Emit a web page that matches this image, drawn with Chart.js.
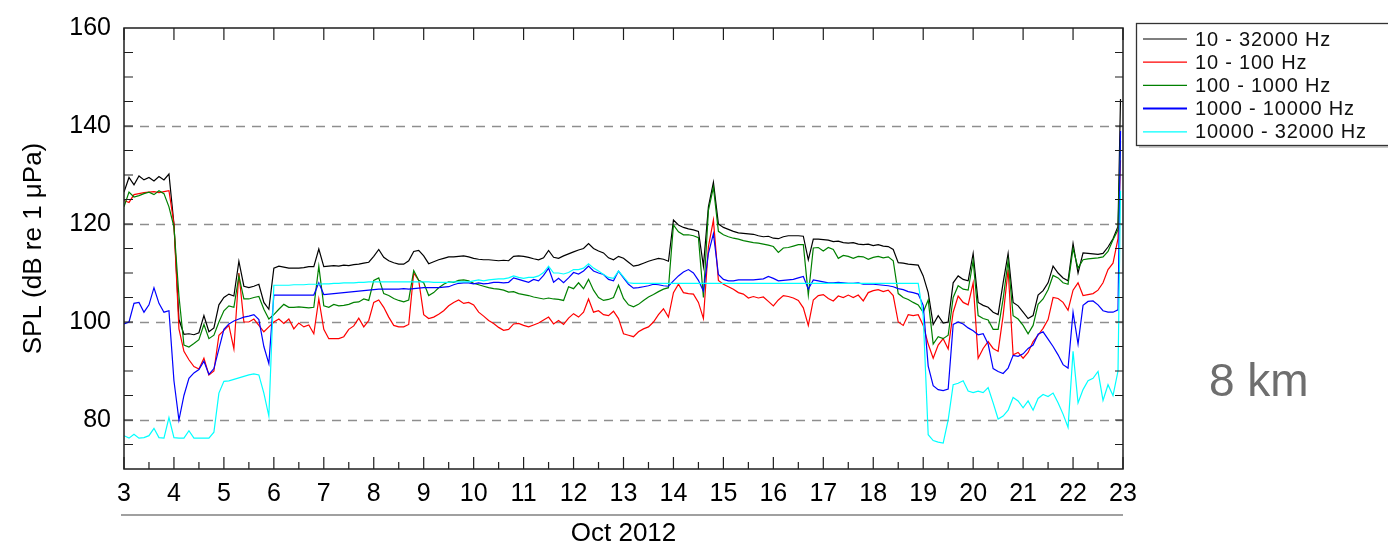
<!DOCTYPE html>
<html><head><meta charset="utf-8">
<script src="https://cdn.jsdelivr.net/npm/chart.js@4.4.1/dist/chart.umd.min.js"></script>
<style>html,body{margin:0;padding:0;background:#fff;}#wrap{width:1388px;height:547px;}</style>
</head><body><div id="wrap"><canvas id="c" width="1388" height="547"></canvas></div>
<script>
// ---- time axis (days of October 2012) ----
const days = [
3,3.1,3.2,3.3,3.4,3.5,3.6,3.7,3.8,3.9,
4,4.1,4.2,4.3,4.4,4.5,4.6,4.7,4.8,4.9,
5,5.1,5.2,5.3,5.4,5.5,5.6,5.7,5.8,5.9,
6,6.1,6.2,6.3,6.4,6.5,6.6,6.7,6.8,6.9,
7,7.1,7.2,7.3,7.4,7.5,7.6,7.7,7.8,7.9,
8,8.1,8.2,8.3,8.4,8.5,8.6,8.7,8.8,8.9,
9,9.1,9.2,9.3,9.4,9.5,9.6,9.7,9.8,9.9,
10,10.1,10.2,10.3,10.4,10.5,10.6,10.7,10.8,10.9,
11,11.1,11.2,11.3,11.4,11.5,11.6,11.7,11.8,11.9,
12,12.1,12.2,12.3,12.4,12.5,12.6,12.7,12.8,12.9,
13,13.1,13.2,13.3,13.4,13.5,13.6,13.7,13.8,13.9,
14,14.1,14.2,14.3,14.4,14.5,14.6,14.7,14.8,14.9,
15,15.1,15.2,15.3,15.4,15.5,15.6,15.7,15.8,15.9,
16,16.1,16.2,16.3,16.4,16.5,16.6,16.7,16.8,16.9,
17,17.1,17.2,17.3,17.4,17.5,17.6,17.7,17.8,17.9,
18,18.1,18.2,18.3,18.4,18.5,18.6,18.7,18.8,18.9,
19,19.1,19.2,19.3,19.4,19.5,19.6,19.7,19.8,19.9,
20,20.1,20.2,20.3,20.4,20.5,20.6,20.7,20.8,20.9,
21,21.1,21.2,21.3,21.4,21.5,21.6,21.7,21.8,21.9,
22,22.1,22.2,22.3,22.4,22.5,22.6,22.7,22.8,22.9,
22.95];

const seriesLabels = ['10 - 32000 Hz','10 - 100 Hz','100 - 1000 Hz','1000 - 10000 Hz','10000 - 32000 Hz'];
const seriesColors = ['#000000','#ff0000','#008000','#0000ff','#00ffff'];

// ---- SPL values (dB re 1 uPa) ----
const band10to32000 = [
126.5,129.5,128.0,129.8,129.0,129.5,128.8,129.7,129.0,130.2,
120.0,100.5,97.5,97.6,97.4,97.8,101.3,98.0,98.8,103.5,
105.0,105.7,105.3,112.4,107.3,107.0,107.3,107.7,104.0,102.6,
111.0,111.4,111.2,111.0,111.0,111.0,111.1,111.3,111.3,114.9,
111.3,111.4,111.5,111.4,111.6,111.5,111.7,111.8,112.0,112.2,
113.4,114.8,113.2,112.5,112.1,111.8,111.8,112.5,114.4,114.6,
113.5,111.9,112.3,112.7,113.0,113.3,113.3,113.4,113.5,113.3,
113.0,112.8,112.7,112.7,112.6,112.5,112.6,112.5,113.4,113.5,
113.4,113.2,112.9,112.7,113.1,114.6,113.2,113.0,113.5,113.9,
114.3,114.7,115.0,116.0,115.0,114.5,114.1,113.1,112.7,113.4,
113.0,112.2,111.4,111.6,112.0,112.4,112.7,113.0,112.8,112.4,
120.8,119.8,119.3,119.0,118.8,118.5,111.4,123.5,128.5,120.0,
119.3,118.9,118.5,118.2,118.1,118.0,117.9,117.6,117.4,117.5,
117.1,117.0,117.4,117.6,117.6,117.6,117.5,112.7,116.9,116.9,
116.8,116.7,116.4,116.5,116.2,116.1,116.2,115.9,115.8,115.9,
115.6,115.8,115.5,115.4,114.8,112.1,112.0,111.8,111.7,111.6,
109.4,106.0,99.5,101.3,99.8,100.0,108.0,109.4,108.7,108.4,
114.0,104.0,103.4,103.0,102.0,101.5,108.0,114.0,104.0,103.3,
102.0,100.7,101.3,105.5,106.4,108.0,111.4,110.0,109.0,108.4,
116.0,110.0,114.1,114.0,113.9,113.8,114.0,115.3,117.0,119.5,
145.5];

const band10to100 = [
124.8,124.4,126.0,126.2,126.4,126.5,126.6,126.4,126.6,126.8,
120.0,98.6,94.0,92.3,90.9,90.4,92.6,89.2,90.0,97.3,
98.3,99.3,94.5,110.0,100.0,100.0,100.6,99.3,98.0,99.0,
100.0,100.6,99.7,100.6,98.6,99.8,99.0,99.4,97.6,104.7,
98.5,96.6,96.6,96.6,97.0,98.5,99.2,100.8,99.0,100.3,
104.0,104.5,103.0,101.0,99.3,99.0,99.0,99.5,110.0,108.5,
101.5,100.7,101.0,101.6,102.3,103.3,104.0,104.5,103.8,104.0,
103.5,102.0,101.2,100.3,99.7,98.9,98.3,98.5,99.6,99.7,
99.3,99.0,99.4,99.8,100.4,101.0,99.6,100.3,99.5,100.8,
101.7,101.0,102.0,104.7,102.0,102.3,101.5,101.3,102.2,100.7,
97.6,97.3,97.0,98.0,98.6,99.0,100.0,101.5,102.7,101.0,
106.0,107.7,106.0,105.8,105.7,104.0,100.7,115.4,120.8,108.5,
107.7,107.2,106.7,106.0,105.7,104.9,105.2,104.9,105.1,104.2,
103.3,104.5,105.4,105.2,104.9,104.4,102.9,99.3,104.5,105.4,
105.6,104.8,104.3,105.3,105.0,105.5,105.0,105.5,104.3,106.0,
106.4,106.6,106.2,106.5,105.4,100.0,99.3,101.5,101.3,101.5,
99.3,95.5,92.6,95.3,96.6,94.5,102.0,105.3,104.0,103.5,
108.0,92.6,94.6,96.0,94.6,94.0,101.3,110.7,93.3,93.8,
92.6,93.8,96.0,97.3,98.7,100.5,105.0,104.8,104.0,102.4,
106.5,108.0,105.4,105.6,105.8,106.5,108.0,110.7,112.0,117.0,
133.0];

const band100to1000 = [
123.5,126.5,125.5,125.8,126.2,126.5,126.0,126.8,126.2,123.5,
119.4,105.3,95.3,94.9,95.6,96.4,99.5,96.6,97.3,100.0,
102.3,103.3,103.0,109.4,104.7,104.7,105.0,105.2,102.6,100.6,
101.5,102.6,103.6,103.0,103.0,103.1,103.0,102.9,103.0,111.4,
103.3,103.0,103.6,103.3,103.4,103.6,104.0,104.1,104.7,104.4,
108.5,109.0,105.8,105.4,104.8,104.4,104.1,104.5,110.5,108.5,
108.0,105.4,106.0,107.0,107.7,108.2,108.1,108.5,108.6,108.4,
107.9,107.6,107.3,107.0,106.8,106.7,106.5,106.1,106.2,105.8,
105.6,105.4,105.1,104.9,104.7,104.9,104.7,104.6,104.4,107.2,
106.8,108.0,106.8,108.7,106.5,105.0,104.4,104.6,105.0,107.5,
104.8,103.5,103.1,103.6,104.4,105.1,105.6,106.2,106.7,107.0,
119.8,118.4,117.8,117.8,117.6,117.2,105.0,122.8,127.5,118.5,
117.8,117.4,117.1,116.9,116.6,116.4,116.2,116.1,115.9,115.7,
115.4,114.2,115.1,115.2,115.5,115.8,115.8,105.5,115.1,115.2,
114.5,115.2,114.8,113.0,113.6,113.4,113.0,113.4,113.3,112.8,
113.2,113.4,113.1,113.3,112.5,105.8,105.0,104.6,104.0,103.5,
102.0,104.5,95.5,97.0,96.6,97.3,105.0,107.4,106.7,106.5,
112.5,101.3,100.7,100.4,98.5,98.5,104.7,112.5,101.3,100.6,
99.3,97.6,99.3,103.6,104.7,106.6,109.5,109.0,108.0,107.7,
115.0,111.0,112.7,112.9,113.0,113.1,113.3,114.4,116.8,118.8,
137.0];

const band1000to10000 = [
99.6,100.0,103.8,104.0,102.0,103.5,107.0,103.8,102.0,102.3,
88.0,80.0,85.0,88.5,89.6,90.3,92.0,89.3,90.5,94.5,
98.5,99.6,100.2,100.6,101.0,101.2,101.5,100.5,95.0,91.5,
105.5,105.5,105.5,105.5,105.5,105.5,105.5,105.5,105.5,108.0,
105.6,105.7,105.8,105.9,106.0,106.1,106.2,106.3,106.4,106.5,
106.6,106.7,106.7,106.7,106.7,106.7,106.8,106.7,106.8,106.9,
107.0,107.0,107.0,107.0,107.1,107.2,107.6,107.9,108.0,108.0,
107.8,108.0,107.8,107.9,108.1,108.1,108.0,108.1,109.0,108.7,
108.4,108.1,108.7,108.4,109.5,111.0,108.1,108.9,108.0,109.0,
110.1,109.8,110.4,111.4,110.4,110.0,109.7,108.7,108.4,110.4,
109.0,107.7,106.9,107.0,107.2,107.4,107.7,107.6,107.4,107.3,
108.4,109.4,110.2,110.7,110.0,108.5,106.3,114.0,118.0,109.7,
108.7,108.4,108.4,108.6,108.6,108.6,108.6,108.7,108.8,109.3,
108.9,108.4,108.5,108.6,108.7,109.0,109.3,106.7,108.6,108.4,
108.2,108.0,108.0,108.1,108.0,107.9,107.9,108.0,107.7,107.7,
107.7,107.6,107.5,107.4,107.2,106.8,106.6,106.2,106.0,105.7,
103.4,91.0,87.0,86.2,86.0,86.3,99.5,100.0,99.6,98.8,
98.2,97.4,97.6,95.5,90.5,89.9,89.5,90.6,93.2,93.0,
93.5,94.6,95.3,97.5,98.0,96.5,95.0,93.3,91.3,90.6,
102.0,95.5,103.4,104.2,104.3,103.5,102.3,102.0,102.0,102.5,
139.0];

const band10000to32000 = [
76.8,76.3,77.1,76.3,76.4,76.8,78.3,76.4,76.3,80.5,
76.4,76.3,76.3,77.8,76.3,76.3,76.3,76.3,77.5,85.5,
87.9,88.0,88.3,88.6,88.9,89.2,89.4,89.2,85.5,80.8,
107.5,107.5,107.5,107.5,107.6,107.6,107.6,107.7,107.7,107.7,
107.8,107.8,107.9,107.9,108.0,108.0,108.0,108.1,108.1,108.2,
108.2,108.2,108.2,108.2,108.2,108.2,108.2,108.2,108.2,108.2,
108.2,108.2,108.1,108.1,108.1,108.1,108.2,108.2,108.2,108.2,
108.4,108.6,108.4,108.6,108.7,108.8,108.8,109.0,109.4,109.1,
108.9,109.1,109.1,109.4,110.1,111.4,110.0,110.0,109.8,110.1,
110.7,110.7,111.0,111.9,111.0,110.4,109.7,109.1,108.9,110.4,
109.2,108.0,107.9,107.9,107.9,107.9,107.9,107.9,107.9,107.9,
107.9,107.9,107.9,107.9,107.9,107.9,107.9,107.9,107.9,107.9,
107.9,107.9,107.9,107.9,107.9,107.9,107.9,107.9,107.9,107.9,
107.9,107.9,107.9,107.9,107.9,107.9,107.9,107.9,107.9,107.9,
107.9,107.9,107.9,107.9,107.9,107.9,107.9,107.9,107.9,107.9,
107.9,107.9,107.9,107.9,107.9,107.9,107.9,107.9,107.9,107.9,
101.3,77.0,75.8,75.5,75.3,80.0,87.2,87.5,88.0,85.9,
85.6,85.9,85.6,86.6,83.5,80.2,80.8,82.0,84.6,83.9,
82.5,83.9,82.0,84.4,85.2,84.8,85.5,83.5,81.2,78.5,
94.0,83.5,86.2,88.0,88.5,89.9,84.0,87.2,85.0,90.0,
126.8];

const seriesValues = [band10to32000, band10to100, band100to1000, band1000to10000, band10000to32000];

// ---- axis ticks ----
const xTicks = [3,4,5,6,7,8,9,10,11,12,13,14,15,16,17,18,19,20,21,22,23];
const yTicks = [80,100,120,140,160];
const yGridValues = [80,100,120,140];
const yMinorStep = 5;
const xMinorStep = 0.5;

const FONT = '"Liberation Sans", Arial, Helvetica, sans-serif';
Chart.defaults.font.family = FONT;

const decor = {
  id: 'decor',
  beforeDatasetsDraw(chart) {
    const {ctx, chartArea: a, scales: {y}} = chart;
    ctx.save();
    ctx.strokeStyle = '#8e8e8e';
    ctx.lineWidth = 1.5;
    ctx.setLineDash([9, 7]);
    yGridValues.forEach(v => {
      const py = Math.round(y.getPixelForValue(v)) + 0.5;
      ctx.beginPath(); ctx.moveTo(a.left, py); ctx.lineTo(a.right, py); ctx.stroke();
    });
    ctx.restore();
  },
  afterDraw(chart) {
    const {ctx, chartArea: a, scales: {x, y}} = chart;
    ctx.save();
    // frame
    ctx.strokeStyle = '#1e1e1e';
    ctx.lineWidth = 1.5;
    ctx.strokeRect(a.left, a.top, a.right - a.left, a.bottom - a.top);
    // inward ticks
    ctx.lineWidth = 1.2;
    ctx.beginPath();
    for (let v = y.min + yMinorStep; v < y.max; v += yMinorStep) {
      const py = y.getPixelForValue(v);
      ctx.moveTo(a.left, py); ctx.lineTo(a.left + 9, py);
      ctx.moveTo(a.right, py); ctx.lineTo(a.right - 8, py);
    }
    xTicks.forEach(d => {
      const px = x.getPixelForValue(d);
      ctx.moveTo(px, a.bottom); ctx.lineTo(px, a.bottom - 12);
      ctx.moveTo(px, a.top); ctx.lineTo(px, a.top + 12);
    });
    xTicks.slice(0, -1).forEach(d => {
      const px = x.getPixelForValue(d + xMinorStep);
      ctx.moveTo(px, a.bottom); ctx.lineTo(px, a.bottom - 7);
    });
    ctx.stroke();
    // date separator line
    ctx.strokeStyle = '#a0a0a0';
    ctx.lineWidth = 2;
    ctx.beginPath();
    ctx.moveTo(a.left - 3, a.bottom + 46); ctx.lineTo(a.right, a.bottom + 46);
    ctx.stroke();
    // legend box
    const lx = 1136, ly = 23, lw = 300, lh = 122;
    ctx.fillStyle = '#c8c8c8';
    ctx.fillRect(lx + 3, ly + 3, lw, lh);
    ctx.fillStyle = '#ffffff';
    ctx.fillRect(lx, ly, lw, lh);
    ctx.strokeStyle = '#333333';
    ctx.lineWidth = 1.3;
    ctx.strokeRect(lx + 0.5, ly + 0.5, lw, lh);
    ctx.font = '20px ' + FONT;
    ctx.textBaseline = 'middle';
    ctx.textAlign = 'left';
    try { ctx.letterSpacing = '0.8px'; } catch (e) {}
    seriesLabels.forEach((lab, i) => {
      const ry = 39 + i * 23.2;
      ctx.strokeStyle = seriesColors[i];
      ctx.lineWidth = i === 3 ? 2 : 1.2;
      ctx.beginPath(); ctx.moveTo(1143, ry); ctx.lineTo(1187, ry); ctx.stroke();
      ctx.fillStyle = '#111111';
      ctx.fillText(lab, 1195, ry + 1);
    });
    try { ctx.letterSpacing = '0px'; } catch (e) {}
    // annotation
    ctx.font = '46px ' + FONT;
    ctx.fillStyle = '#6e6e6e';
    ctx.textBaseline = 'alphabetic';
    ctx.fillText('8 km', 1209, 396);
    ctx.restore();
  }
};

const datasets = seriesValues.map((vals, i) => ({
  label: seriesLabels[i],
  data: days.map((d, j) => ({x: d, y: vals[j]})),
  borderColor: seriesColors[i],
  backgroundColor: seriesColors[i],
  borderWidth: 1.2,
  pointRadius: 0,
  tension: 0,
  order: 5 - i
}));

new Chart(document.getElementById('c'), {
  type: 'line',
  data: {datasets},
  options: {
    responsive: false,
    animation: false,
    devicePixelRatio: 1,
    layout: {padding: {left: 0, top: 22, right: 265, bottom: 0}},
    plugins: {legend: {display: false}, tooltip: {enabled: false}},
    scales: {
      x: {
        type: 'linear', min: 3, max: 23,
        afterBuildTicks: s => { s.ticks = xTicks.map(v => ({value: v})); },
        afterFit: s => { s.height = 78; },
        grid: {display: false, drawTicks: false},
        border: {display: false},
        ticks: {font: {size: 25}, color: '#000', padding: 10, maxRotation: 0, autoSkip: false, callback: v => String(v)},
        title: {display: true, text: 'Oct 2012', color: '#000', font: {size: 26, lineHeight: 1.0}, padding: {top: 0, bottom: 0}}
      },
      y: {
        min: 70, max: 160,
        afterBuildTicks: s => { s.ticks = yTicks.map(v => ({value: v})); },
        afterFit: s => { s.width = 124; },
        grid: {display: false, drawTicks: false},
        border: {display: false},
        ticks: {font: {size: 25}, color: '#000', padding: 13},
        title: {display: true, text: 'SPL (dB re 1 μPa)', color: '#000', font: {size: 26, lineHeight: 1.2}, padding: {top: 18, bottom: 0}}
      }
    }
  },
  plugins: [decor]
});
</script>
</body></html>
